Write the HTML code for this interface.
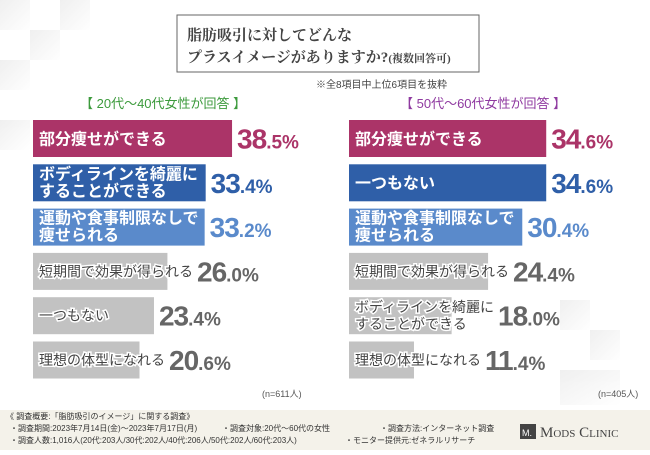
<!DOCTYPE html>
<html><head><meta charset="utf-8">
<style>
html,body{margin:0;padding:0;}
body{width:650px;height:450px;overflow:hidden;background:#fff;font-family:"Liberation Sans","Noto Sans CJK JP",sans-serif;position:relative;}
svg text{font-family:"Liberation Sans","Noto Sans CJK JP",sans-serif;}
</style></head>
<body>
<svg id="chart" width="650" height="450" viewBox="0 0 650 450" xmlns="http://www.w3.org/2000/svg">
  <defs>
    <linearGradient id="sq" x1="0" y1="0" x2="1" y2="1"><stop offset="0" stop-color="#e6e6e6"/><stop offset="1" stop-color="#fff"/></linearGradient>
  </defs>
  <g opacity="0.6">
    <rect x="0" y="0" width="30" height="30" fill="url(#sq)"/>
    <rect x="60" y="0" width="30" height="30" fill="url(#sq)"/>
    <rect x="30" y="30" width="30" height="30" fill="url(#sq)"/>
    <rect x="0" y="60" width="30" height="30" fill="url(#sq)"/>
    <rect x="0" y="120" width="30" height="30" fill="url(#sq)"/>
    <rect x="560" y="300" width="30" height="30" fill="url(#sq)"/>
    <rect x="590" y="330" width="30" height="30" fill="url(#sq)"/>
    <rect x="560" y="370" width="60" height="35" fill="url(#sq)"/>
  </g>
  <rect x="177" y="15" width="302" height="57" fill="#fff" stroke="#666" stroke-width="1"/>
  <text x="187" y="40" font-size="15" font-weight="bold" fill="#444" style="font-family:'Liberation Serif','Noto Serif CJK SC',serif">脂肪吸引に対してどんな</text>
  <text x="187" y="62" font-size="15" font-weight="bold" fill="#444" style="font-family:'Liberation Serif','Noto Serif CJK SC',serif">プラスイメージがありますか?<tspan font-size="11">(複数回答可)</tspan></text>
  <text x="316" y="88" font-size="10" fill="#444">※全8項目中上位6項目を抜粋</text>
  <text x="80" y="108" font-size="13" fill="#3c9a3c">【 20代～40代女性が回答 】</text>
  <text x="400" y="108" font-size="13" fill="#8f3aa0">【 50代～60代女性が回答 】</text>
  <g id="left"></g>
  <g id="right"></g>
  <text x="262" y="397" font-size="9" fill="#555">(n=611人)</text>
  <text x="598" y="397" font-size="9" fill="#555">(n=405人)</text>
  <rect x="0" y="410" width="650" height="40" fill="#f4f2ea"/>
  <g font-size="8" fill="#333">
    <text x="6" y="419">《 調査概要:「脂肪吸引のイメージ」に関する調査》</text>
    <text x="10" y="431">・調査期間:2023年7月14日(金)～2023年7月17日(月)</text>
    <text x="222" y="431">・調査対象:20代～60代の女性</text>
    <text x="380" y="431">・調査方法:インターネット調査</text>
    <text x="10" y="443">・調査人数:1,016人(20代:203人/30代:202人/40代:206人/50代:202人/60代:203人)</text>
    <text x="345" y="443">・モニター提供元:ゼネラルリサーチ</text>
  </g>
  <g>
    <rect x="520" y="424" width="16" height="15" fill="#444"/>
    <text x="522" y="436" font-size="9" fill="#fff" font-family="serif">M.</text>
    <text x="540" y="437" font-size="15" fill="#444" style="font-family:'Liberation Serif',serif">M<tspan font-size="11">ODS</tspan> C<tspan font-size="11">LINIC</tspan></text>
  </g>
</svg>
<script>
const leftLabels = [["部分痩せができる"],["ボディラインを綺麗に","することができる"],["運動や食事制限なしで","痩せられる"],["短期間で効果が得られる"],["一つもない"],["理想の体型になれる"]];
const leftValues = [38.5,33.4,33.2,26.0,23.4,20.6];
const leftColors = ["#ab3468","#2f5fa8","#5a8acb","#c2c2c2","#c2c2c2","#c2c2c2"];
const rightLabels = [["部分痩せができる"],["一つもない"],["運動や食事制限なしで","痩せられる"],["短期間で効果が得られる"],["ボディラインを綺麗に","することができる"],["理想の体型になれる"]];
const rightValues = [34.6,34.6,30.4,24.4,18.0,11.4];
const rightColors = ["#ab3468","#2f5fa8","#5a8acb","#c2c2c2","#c2c2c2","#c2c2c2"];
const valueColors = ["#ab3468","#2f5fa8","#5a8acb","#666","#666","#666"];
const NS="http://www.w3.org/2000/svg";
function draw(gid, x0, scale, labels, values, colors, side){
  const g=document.getElementById(gid);
  const yOf=i=>120+i*44.3, h=37;
  values.forEach((v,i)=>{
    const y=yOf(i), w=v*scale;
    const r=document.createElementNS(NS,'rect');
    r.setAttribute('x',x0);r.setAttribute('y',y);r.setAttribute('width',w);r.setAttribute('height',h);r.setAttribute('fill',colors[i]);
    
    
    g.appendChild(r);
    const colored=colors[i]!=="#c2c2c2";
    const lines=labels[i];
    const t=document.createElementNS(NS,'text');
    t.setAttribute('font-size', colored?16:14);
    t.setAttribute('font-weight', colored?'bold':'normal');
    t.setAttribute('fill', colored?'#fff':'#444');
    t.setAttribute('stroke', colored?colors[i]:'#fff');
    t.setAttribute('stroke-width', colored?0:3);
    t.setAttribute('paint-order','stroke');
    
    
    lines.forEach((ln,k)=>{
      const ts=document.createElementNS(NS,'tspan');
      ts.setAttribute('x',x0+6);
      const fs=colored?16:14;
      ts.setAttribute('y', lines.length===1? y+h/2+fs*0.36 : y+15+k*17);
      ts.textContent=ln;t.appendChild(ts);
    });
    g.appendChild(t);
    const bb=t.getBBox();
    let vx=Math.max(x0+w+5, bb.x+bb.width+4);
    const vt=document.createElementNS(NS,'text');
    vt.setAttribute('x',vx);vt.setAttribute('y',y+h/2+10);
    vt.setAttribute('fill',valueColors[i]);vt.setAttribute('font-weight','bold');
    
    
    const s=v.toFixed(1).split('.');
    vt.innerHTML='<tspan font-size="28" letter-spacing="-1">'+s[0]+'</tspan><tspan font-size="19">.'+s[1]+'%</tspan>';
    g.appendChild(vt);
  });
}
draw('left',33,5.17,leftLabels,leftValues,leftColors,'left');
draw('right',349,5.7,rightLabels,rightValues,rightColors,'right');
</script>
</body></html>
